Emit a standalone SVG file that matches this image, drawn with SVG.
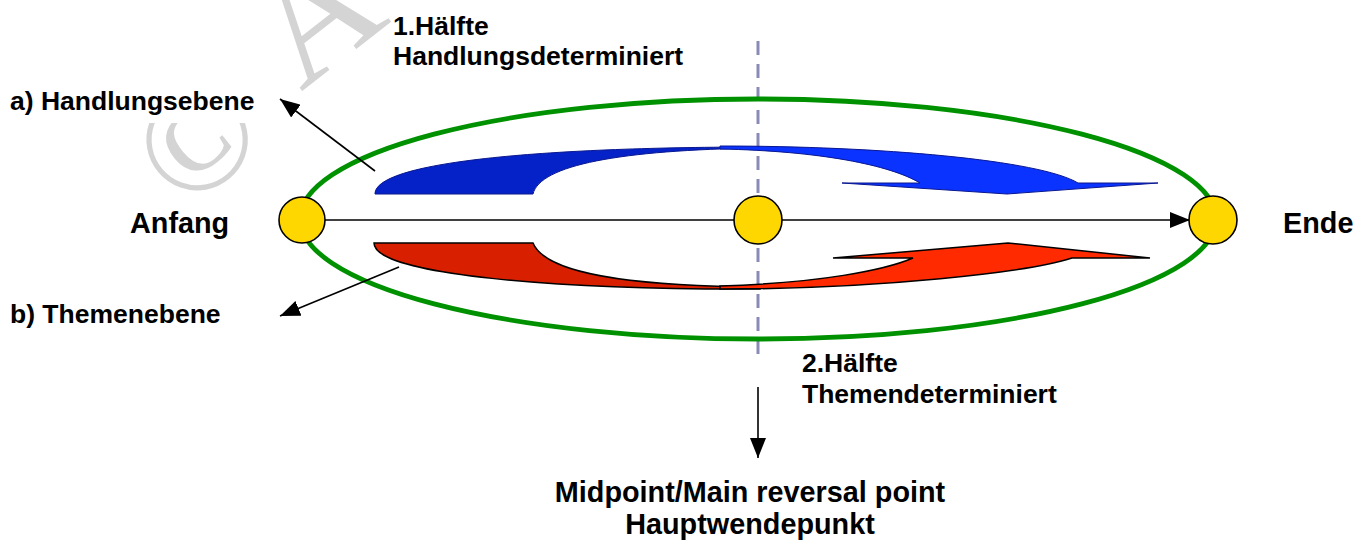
<svg xmlns="http://www.w3.org/2000/svg" width="1366" height="540" viewBox="0 0 1366 540">
<defs>
<style>
.lbl{font-family:"Liberation Sans",Arial,sans-serif;font-weight:bold;font-size:26.5px;fill:#000}
.big{font-size:28.8px}
.wm{font-family:"Liberation Serif","Times New Roman",serif;font-size:150px;fill:#d4d4d4}
.node{fill:#FFD700;stroke:#000;stroke-width:1.6}
.conn{stroke:#000;stroke-width:1.6;fill:none}
</style>
<marker id="ah" viewBox="0 0 20 16" refX="20" refY="8" markerWidth="20" markerHeight="16" markerUnits="userSpaceOnUse" orient="auto">
<path d="M0,0 L20,8 L0,16 Z" fill="#000"/>
</marker>
</defs>
<rect width="1366" height="540" fill="#fff"/>
<g id="watermark">
<text class="wm" transform="translate(185,214) rotate(-40)">©</text>
<text class="wm" style="font-size:160px" transform="translate(301,92) rotate(-38)">A</text>
<rect x="0" y="76" width="262" height="47" fill="#fff"/>
</g>
<g id="half-line">
<line x1="758" y1="41" x2="758" y2="360" stroke="#8A8AB8" stroke-width="3" stroke-dasharray="14 9"/>
</g>
<g id="ellipse">
<ellipse cx="758" cy="219" rx="458" ry="120" fill="none" stroke="#009100" stroke-width="4.8"/>
</g>
<g id="handlung-arrow">
<path d="M375,194 C375,160 560,147 760,147 L760,148 C620,150 540,165 533,194 Z" fill="#0522C8" stroke="#0A1890" stroke-width="1"/>
<path d="M720,146 C880,146 1040,160 1078,183 L1158,183 L1007,194 L842,183 L920,183 C890,165 820,151 720,149 Z" fill="#0A33FF" stroke="#0A1890" stroke-width="1"/>
</g>
<g id="themen-arrow">
<path d="M374,243 L533,243 C545,272 620,286 760,287 L760,289 C560,290 374,275 374,243 Z" fill="#D82000" stroke="#000" stroke-width="1.5"/>
<path d="M720,289 C880,289 1030,272 1072,258 L1150,258 L1008,243 L833,258 L913,258 C885,270 820,283 720,286 Z" fill="#FF2A00" stroke="#000" stroke-width="1.5"/>
</g>
<g id="connectors">
<line class="conn" x1="325" y1="220" x2="1190" y2="220" marker-end="url(#ah)"/>
<line class="conn" x1="375" y1="171" x2="280" y2="99" marker-end="url(#ah)"/>
<line class="conn" x1="399" y1="267" x2="280" y2="316" marker-end="url(#ah)"/>
<line class="conn" x1="758" y1="387" x2="758" y2="458" marker-end="url(#ah)"/>
</g>
<g id="anfang"><circle class="node" cx="302" cy="220" r="23"/></g>
<g id="midpoint"><circle class="node" cx="758" cy="220" r="24"/></g>
<g id="ende"><circle class="node" cx="1213" cy="220" r="24"/></g>
<g id="labels">
<text class="lbl" x="393" y="35">1.Hälfte</text>
<text class="lbl" x="393" y="65">Handlungsdeterminiert</text>
<text class="lbl" x="10" y="110">a) Handlungsebene</text>
<text class="lbl big" x="130" y="233">Anfang</text>
<text class="lbl big" x="1283" y="233">Ende</text>
<text class="lbl" x="10" y="323">b) Themenebene</text>
<text class="lbl" x="802" y="372">2.Hälfte</text>
<text class="lbl" x="802" y="403">Themendeterminiert</text>
<text class="lbl big" x="750" y="502" text-anchor="middle">Midpoint/Main reversal point</text>
<text class="lbl big" x="750" y="534" text-anchor="middle">Hauptwendepunkt</text>
</g>
</svg>
